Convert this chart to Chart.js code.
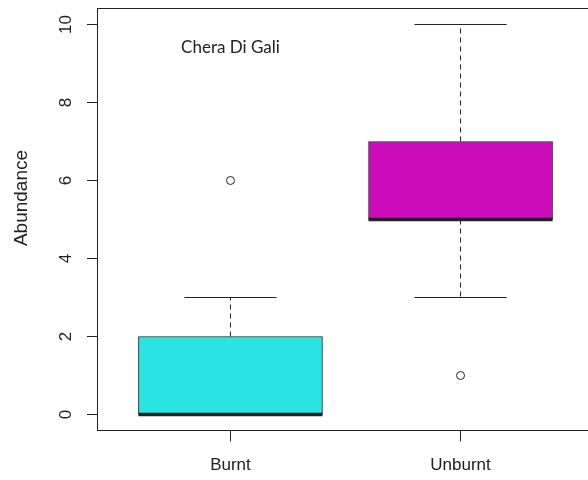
<!DOCTYPE html>
<html>
<head>
<meta charset="utf-8">
<script src="https://cdn.jsdelivr.net/npm/chart.js@4/dist/chart.umd.min.js"></script>
<style>
  html, body { margin: 0; padding: 0; background: #fff; overflow: hidden; }
  #wrap { width: 600px; height: 480px; }
</style>
</head>
<body>
<div id="wrap"><canvas id="c" width="600" height="480"></canvas></div>
<script>
// Boxplot-Werte
const categories = ["Burnt", "Unburnt"];
const lowerWhisker = [0, 3];
const q1 = [0, 5];
const median = [0, 5];
const q3 = [2, 7];
const upperWhisker = [3, 10];
const outliers = [[6], [1]];
const boxColors = ["#2AE3E3", "#CC0CBB"];
const yTicks = [0, 2, 4, 6, 8, 10];
const yTitle = "Abundance";
const note = "Chera Di Gali";

const ink = "#222";
const boxHalf = 0.4;  // halbe Boxbreite in x-Einheiten
const capHalf = 0.2;

// Linien für Median, Whisker und Caps
const lineSets = [];
categories.forEach((c, i) => {
    const x = i + 1;
    lineSets.push({ type: "line", data: [{ x: x - boxHalf, y: median[i] }, { x: x + boxHalf, y: median[i] }], borderWidth: 3.5 });
    if (upperWhisker[i] > q3[i]) {
        lineSets.push({ type: "line", data: [{ x: x, y: q3[i] }, { x: x, y: upperWhisker[i] }], borderWidth: 1, borderDash: [5, 4] });
    }
    lineSets.push({ type: "line", data: [{ x: x - capHalf, y: upperWhisker[i] }, { x: x + capHalf, y: upperWhisker[i] }], borderWidth: 1 });
    if (lowerWhisker[i] < q1[i]) {
        lineSets.push({ type: "line", data: [{ x: x, y: q1[i] }, { x: x, y: lowerWhisker[i] }], borderWidth: 1, borderDash: [5, 4] });
        lineSets.push({ type: "line", data: [{ x: x - capHalf, y: lowerWhisker[i] }, { x: x + capHalf, y: lowerWhisker[i] }], borderWidth: 1 });
    }
});
lineSets.forEach(d => {
    d.borderColor = ink;
    d.pointRadius = 0;
    d.fill = false;
    d.order = 0;
});

// Rahmen + Beschriftungen im R-Stil
const rStyle = {
    id: "rStyle",
    beforeDatasetsDraw(chart) {
        const { ctx, chartArea: a } = chart;
        const l = Math.floor(a.left), t = Math.floor(a.top);
        const r = Math.floor(a.right), b = Math.floor(a.bottom);
        ctx.save();
        ctx.strokeStyle = ink;
        ctx.lineWidth = 1;
        ctx.strokeRect(l + 0.5, t + 0.5, r - l, b - t);
        ctx.restore();
    },
    afterDraw(chart) {
        const { ctx } = chart;
        const xs = chart.scales.x, ys = chart.scales.y;
        ctx.save();
        ctx.fillStyle = ink;
        ctx.font = "17px 'Liberation Sans', Arial, sans-serif";
        ctx.textAlign = "center";
        ctx.textBaseline = "middle";
        yTicks.forEach(v => {
            ctx.save();
            ctx.translate(66, ys.getPixelForValue(v));
            ctx.rotate(-Math.PI / 2);
            ctx.fillText(String(v), 0, 0);
            ctx.restore();
        });
        categories.forEach((c, i) => {
            ctx.fillText(c, xs.getPixelForValue(i + 1), 465);
        });
        ctx.save();
        ctx.font = "19px 'Liberation Sans', Arial, sans-serif";
        ctx.translate(22, 198);
        ctx.rotate(-Math.PI / 2);
        ctx.fillText(yTitle, 0, 0);
        ctx.restore();
        ctx.font = "17px Lato, 'Open Sans', sans-serif";
        ctx.fillText(note, xs.getPixelForValue(1), ys.getPixelForValue(9.4));
        ctx.restore();
    }
};

new Chart(document.getElementById("c"), {
    data: {
        datasets: [
            {
                type: "bar",
                data: categories.map((c, i) => ({ x: i + 1, y: [q1[i], q3[i]] })),
                backgroundColor: boxColors,
                borderColor: ink,
                borderWidth: 1,
                borderSkipped: false,
                barThickness: 184,
                order: 1
            },
            ...lineSets,
            {
                type: "scatter",
                data: outliers.flatMap((arr, i) => arr.map(v => ({ x: i + 1, y: v }))),
                pointRadius: 4,
                pointBackgroundColor: "#fff",
                pointBorderColor: ink,
                pointBorderWidth: 1,
                order: 0
            }
        ]
    },
    options: {
        responsive: false,
        animation: false,
        devicePixelRatio: 1,
        layout: { padding: { top: 8.5, right: 6, left: 0, bottom: 0 } },
        plugins: { legend: { display: false }, tooltip: { enabled: false } },
        scales: {
            x: {
                type: "linear",
                min: 0.42,
                max: 2.58,
                offset: false,
                afterBuildTicks: s => { s.ticks = categories.map((c, i) => ({ value: i + 1 })); },
                afterFit: s => { s.height = 49.5; },
                ticks: { display: false },
                border: { display: false },
                grid: { offset: false, drawOnChartArea: false, drawTicks: true, tickLength: 11, color: ink }
            },
            y: {
                min: -0.41,
                max: 10.41,
                afterBuildTicks: s => { s.ticks = yTicks.map(v => ({ value: v })); },
                afterFit: s => { s.width = 97; },
                ticks: { display: false },
                border: { display: false },
                grid: { drawOnChartArea: false, drawTicks: true, tickLength: 10, color: ink }
            }
        }
    },
    plugins: [rStyle]
});
</script>
</body>
</html>
